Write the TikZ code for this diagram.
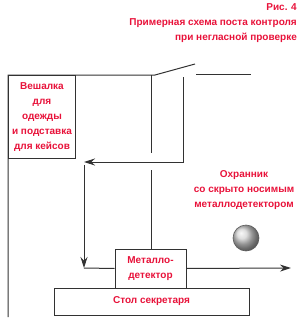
\documentclass[tikz,border=0pt]{standalone}
\usepackage{fontspec}
\setmainfont{Liberation Sans}
\usetikzlibrary{arrows.meta,shadings}
\definecolor{txtred}{RGB}{232,18,58}
\definecolor{linegray}{RGB}{50,50,50}
\begin{document}
\begin{tikzpicture}[x=1pt,y=-1pt,
  wall/.style={draw=linegray,line width=1pt},
  box/.style={draw=linegray,line width=1pt,fill=white,inner sep=0pt,align=center},
  lbl/.style={text=txtred,font=\fontsize{10}{15}\selectfont\bfseries,align=center,inner sep=0pt},
  conn/.style={draw=linegray,line width=1pt},
  tip/.style={-{Stealth[length=11pt,width=7pt]}}
]
\useasboundingbox (0,0) rectangle (301,329);
% walls
\draw[wall] (8,317) -- (8,75) -- (155,75) -- (195,64);
\draw[wall] (196,74) -- (251,74);
% hanger box
\node[box,minimum width=67pt,minimum height=83pt,anchor=north west] (hanger) at (8,75) {};
\node[lbl] (hangertxt) at (hanger.center) {Вешалка\\для\\одежды\\и подставка\\для кейсов};
% table and detector
\node[box,minimum width=195pt,minimum height=27pt] (table) at (151.5,301.5) {};
\node[lbl] (tabletxt) at (table.center) {Стол секретаря};
\node[box,minimum width=71pt,minimum height=39pt] (det) at (150.5,268.5) {};
\node[lbl] (dettxt) at (det.center) {Металло-\\детектор};
% title
\node[lbl,align=right,anchor=north east] (title) at (297,3) {Рис. 4\\Примерная схема поста контроля\\при негласной проверке};
% guard
\node[lbl] (guard) at (244,190.5) {Охранник\\со скрыто носимым\\металлодетектором};
\node[circle,minimum size=26pt,inner sep=0pt,draw=linegray!80,line width=0.6pt,ball color=gray!35] (ball) at (246,238) {};
% coordinates
\coordinate (wa) at (151,75);
\coordinate (wb) at (151,153);
\coordinate (wc) at (151,170);
\coordinate (p1) at (183,77);
\coordinate (p2) at (183,162);
\coordinate (p3) at (84,162);
\coordinate (q1) at (84,165);
\coordinate (q2) at (84,268);
\coordinate (out) at (291,268);
% inner wall with gap
\draw[conn] (wa) -- (wb);
\draw[conn] (wc) -- (det.north -| wc);
% route arrows
\draw[conn,tip] (p1) -- (p2) -- (p3);
\draw[conn,tip] (q1) -- (q2);
\draw[conn] (q2) -- (det.west);
\draw[conn,tip] (det.east) -- (out);
\end{tikzpicture}
\end{document}
